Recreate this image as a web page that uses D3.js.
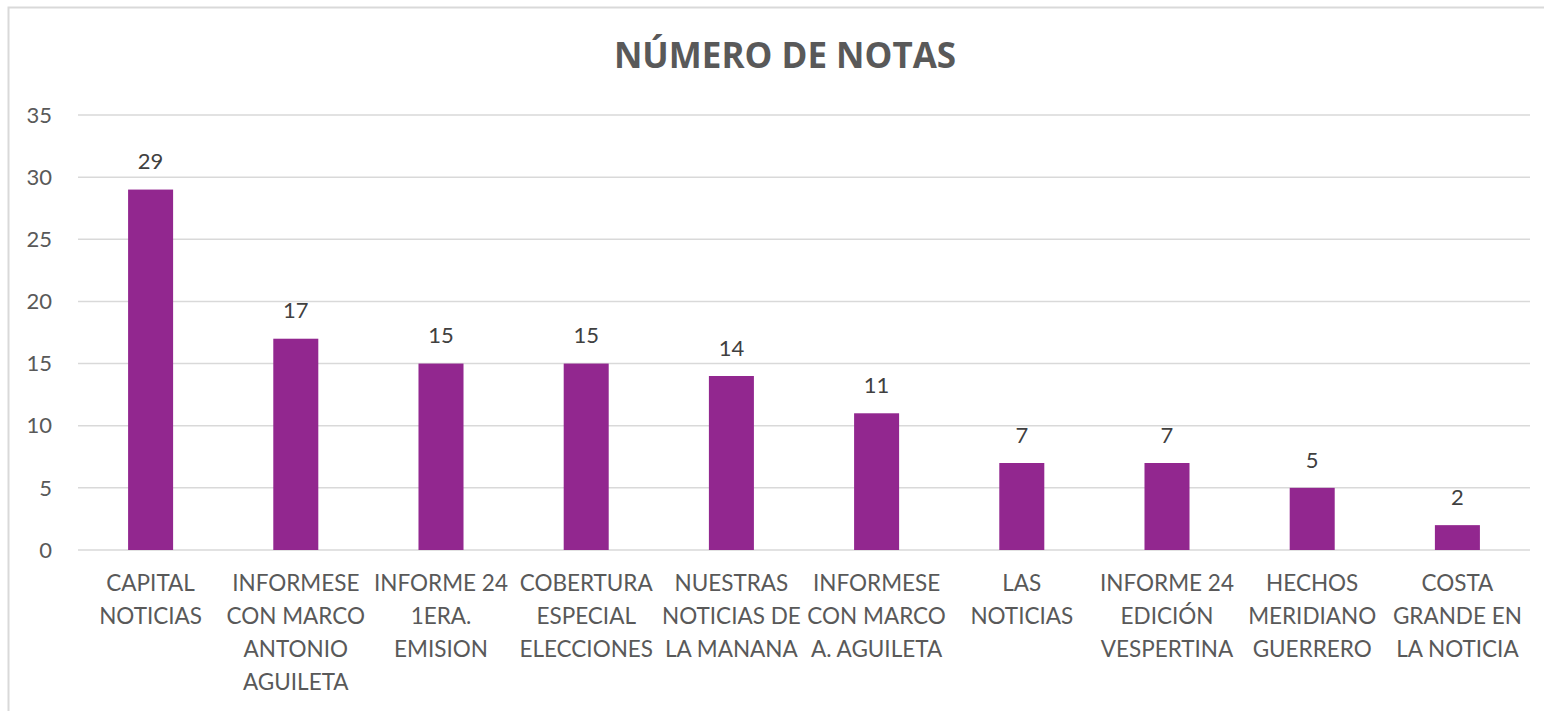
<!DOCTYPE html>
<html lang="es">
<head>
  <meta charset="UTF-8">
  <title>Número de notas</title>
  <script src="https://cdn.jsdelivr.net/npm/d3@7"></script>
  <style>
    body { margin: 0; background: #fff; }
    svg { display: block; font-family: Lato, "Open Sans", sans-serif; }
    .title { fill: #595959; font-weight: bold; font-size: 35px; font-family: "Open Sans", sans-serif; }
    .grid line { stroke: #d9d9d9; stroke-width: 1.5px; }
    .ylab text { fill: #595959; font-size: 22px; }
    .xlab text { fill: #595959; font-size: 22.5px; }
    .val { fill: #404040; font-size: 22px; }
  </style>
</head>
<body>
  <svg width="1544" height="711"></svg>
  <script>
    const categories = [
      ['CAPITAL', 'NOTICIAS'],
      ['INFORMESE', 'CON MARCO', 'ANTONIO', 'AGUILETA'],
      ['INFORME 24', '1ERA.', 'EMISION'],
      ['COBERTURA', 'ESPECIAL', 'ELECCIONES'],
      ['NUESTRAS', 'NOTICIAS DE', 'LA MANANA'],
      ['INFORMESE', 'CON MARCO', 'A. AGUILETA'],
      ['LAS', 'NOTICIAS'],
      ['INFORME 24', 'EDICIÓN', 'VESPERTINA'],
      ['HECHOS', 'MERIDIANO', 'GUERRERO'],
      ['COSTA', 'GRANDE EN', 'LA NOTICIA']
    ];
    const notas = [29, 17, 15, 15, 14, 11, 7, 7, 5, 2];
    const yTicks = [0, 5, 10, 15, 20, 25, 30, 35];

    const svg = d3.select('svg');

    // chart frame
    svg.append('rect')
      .attr('x', 8.5).attr('y', 7.5)
      .attr('width', 1560).attr('height', 720)
      .attr('fill', 'none')
      .attr('stroke', '#d9d9d9')
      .attr('stroke-width', 2);

    const plotL = 78, plotR = 1530, plotT = 115, plotB = 550;

    const x = d3.scaleBand()
      .domain(d3.range(categories.length))
      .range([plotL, plotR])
      .paddingInner(0.69)
      .paddingOuter(0.345);

    const y = d3.scaleLinear()
      .domain([0, 35])
      .range([plotB, plotT]);

    svg.append('text')
      .attr('class', 'title')
      .attr('x', 785)
      .attr('y', 68)
      .attr('text-anchor', 'middle')
      .text('NÚMERO DE NOTAS');

    const grid = svg.append('g').attr('class', 'grid');
    grid.selectAll('line')
      .data(yTicks)
      .enter()
      .append('line')
      .attr('x1', plotL).attr('x2', plotR)
      .attr('y1', d => y(d)).attr('y2', d => y(d));

    const ylab = svg.append('g').attr('class', 'ylab');
    ylab.selectAll('text')
      .data(yTicks)
      .enter()
      .append('text')
      .attr('x', 52)
      .attr('y', d => y(d))
      .attr('dy', '0.35em')
      .attr('text-anchor', 'end')
      .text(d => d);

    svg.selectAll('.bar')
      .data(notas)
      .enter()
      .append('rect')
      .attr('class', 'bar')
      .attr('x', (d, i) => x(i))
      .attr('width', x.bandwidth())
      .attr('y', d => y(d))
      .attr('height', d => y(0) - y(d))
      .attr('fill', '#92278f');

    svg.selectAll('.val')
      .data(notas)
      .enter()
      .append('text')
      .attr('class', 'val')
      .attr('x', (d, i) => x(i) + x.bandwidth() / 2)
      .attr('y', d => y(d) - 28)
      .attr('dy', '0.35em')
      .attr('text-anchor', 'middle')
      .text(d => d);

    const xlab = svg.append('g').attr('class', 'xlab');
    const lab = xlab.selectAll('text')
      .data(categories)
      .enter()
      .append('text')
      .attr('text-anchor', 'middle')
      .attr('transform', (d, i) => `translate(${x(i) + x.bandwidth() / 2},583)`);
    lab.selectAll('tspan')
      .data(d => d)
      .enter()
      .append('tspan')
      .attr('x', 0)
      .attr('y', (d, i) => i * 33)
      .attr('dy', '0.35em')
      .text(d => d);
  </script>
</body>
</html>
